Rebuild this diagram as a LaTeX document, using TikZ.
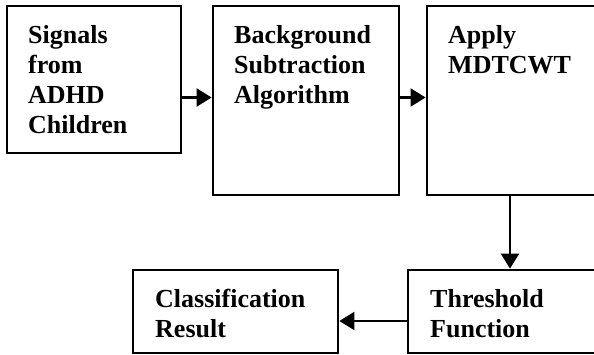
\documentclass[tikz,border=0pt]{standalone}
\usepackage{fontspec}
\setmainfont{Liberation Serif}
\usetikzlibrary{arrows.meta,calc}

\begin{document}
\begin{tikzpicture}[
  x=1pt, y=1pt,
  box/.style={draw, line width=2.8pt, outer sep=0pt, inner sep=0pt},
  txt/.style={anchor=north west, inner sep=0pt, align=left,
    font=\fontsize{26}{30}\selectfont\bfseries},
  arrow/.style={-{Triangle[length=15pt, width=18pt]}, line width=2.2pt,
    shorten >=1.4pt}
]
\useasboundingbox (0,0) rectangle (594,354);

\node[box, minimum width=174pt, minimum height=147pt] (sig) at (94,274.5) {};
\node[box, minimum width=186pt, minimum height=189pt] (bsa) at (306,253.5) {};
\node[box, minimum width=168pt, minimum height=189pt] (mdt) at (511,253.5) {};
\node[box, minimum width=188pt, minimum height=83pt] (thr) at (502,42.5) {};
\node[box, minimum width=205pt, minimum height=83pt] (cls) at (235.5,42.5) {};

\node[txt] (sigtxt) at ([shift={(21,-19)}]sig.north west)
  {Signals\\from\\ADHD\\Children};
\node[txt] (bsatxt) at ([shift={(21,-19)}]bsa.north west)
  {Background\\Subtraction\\Algorithm};
\node[txt] (mdttxt) at ([shift={(21,-19)}]mdt.north west)
  {Apply\\MDTCWT};
\node[txt] (thrtxt) at ([shift={(22,-19)}]thr.north west)
  {Threshold\\Function};
\node[txt] (clstxt) at ([shift={(22,-19)}]cls.north west)
  {Classification\\Result};

\draw[arrow] ([yshift=-18pt]sig.east) -- ([yshift=-18pt]sig.east -| bsa.west);
\draw[arrow] ([yshift=3pt]bsa.east) -- ([yshift=3pt]bsa.east -| mdt.west);
\draw[arrow] ([xshift=-1pt]mdt.south) -- ([xshift=-1pt]mdt.south |- thr.north);
\draw[arrow] ([yshift=-9.5pt]thr.west) -- ([yshift=-9.5pt]thr.west -| cls.east);

\end{tikzpicture}
\end{document}
